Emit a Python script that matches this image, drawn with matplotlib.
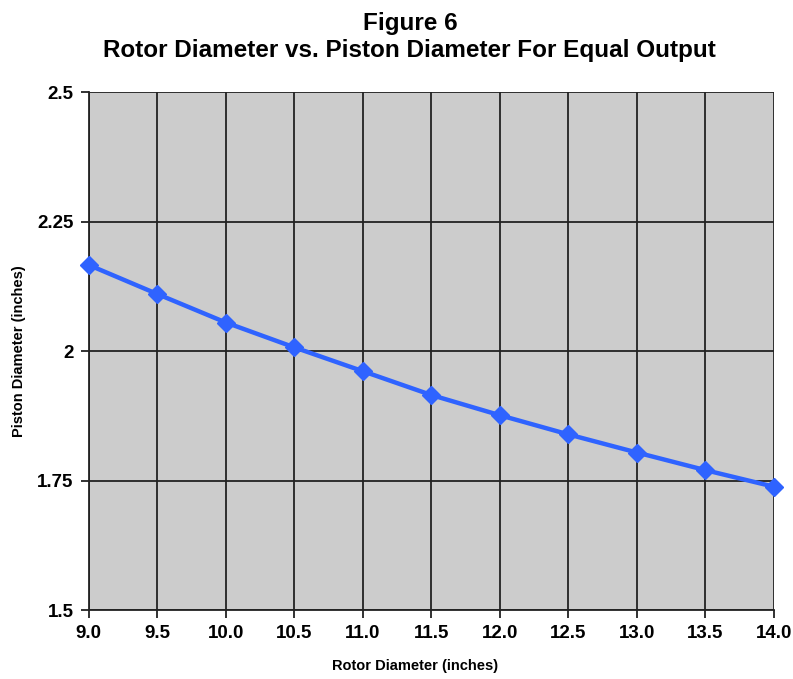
import matplotlib.pyplot as plt

# Data
rotor_diameter = [9.0, 9.5, 10.0, 10.5, 11.0, 11.5, 12.0, 12.5, 13.0, 13.5, 14.0]
piston_diameter = [2.166, 2.110, 2.055, 2.007, 1.961, 1.915, 1.876, 1.839, 1.804, 1.770, 1.738]
y_ticks = [1.5, 1.75, 2.0, 2.25, 2.5]
y_tick_labels = ["1.5", "1.75", "2", "2.25", "2.5"]

plt.rcParams["font.family"] = ["Liberation Sans", "DejaVu Sans"]

fig = plt.figure(figsize=(7.93, 6.79), dpi=100)
ax = fig.add_axes([0.112, 0.1016, 0.864, 0.7629])
ax.set_facecolor("#cccccc")

ax.plot(rotor_diameter, piston_diameter, color="#2f63ff", linewidth=3.2,
        marker="D", markersize=9, zorder=3, clip_on=False)

ax.set_xlim(9.0, 14.0)
ax.set_ylim(1.5, 2.5)
ax.set_xticks(rotor_diameter)
ax.set_xticklabels([f"{v:.1f}" for v in rotor_diameter])
ax.set_yticks(y_ticks)
ax.set_yticklabels(y_tick_labels)
ax.grid(True, color="#222222", linewidth=1.3)
ax.set_axisbelow(True)

for side in ["top", "right"]:
    ax.spines[side].set_visible(False)
for side in ["left", "bottom"]:
    ax.spines[side].set_color("#222222")
    ax.spines[side].set_linewidth(1.3)

ax.tick_params(axis="both", direction="out", length=6, width=1.3, color="#222222",
               labelsize=13.5, pad=5)
for lbl in ax.get_xticklabels() + ax.get_yticklabels():
    lbl.set_fontweight("bold")

ax.set_xlabel("Rotor Diameter (inches)", fontsize=10.5, fontweight="bold", labelpad=11)
ax.xaxis.set_label_coords(0.476, -0.095)
ax.set_ylabel("Piston Diameter (inches)", fontsize=10.5, fontweight="bold", labelpad=8)

fig.text(0.517, 0.966, "Figure 6", ha="center", va="center", fontsize=17.5, fontweight="bold")
fig.text(0.516, 0.925, "Rotor Diameter vs. Piston Diameter For Equal Output",
         ha="center", va="center", fontsize=17.5, fontweight="bold")

fig.savefig("out.png", dpi=100)
